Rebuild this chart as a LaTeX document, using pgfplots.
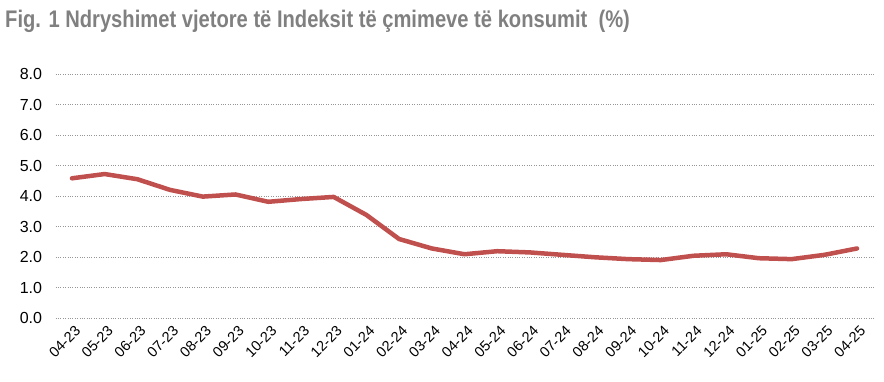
\documentclass[border=0pt]{standalone}
\usepackage{fontspec}
\setmainfont{Liberation Sans}
\newfontfamily\titlefont{Liberation Sans}[FakeStretch=0.84]
\usepackage{pgfplots}
\pgfplotsset{compat=1.18}
\definecolor{cpired}{RGB}{192,80,77}
\definecolor{titlegray}{RGB}{128,128,128}
\definecolor{gridgray}{RGB}{150,150,150}
\begin{document}
\begin{tikzpicture}
\path[use as bounding box] (0,0) rectangle (884bp,382bp);
\node[anchor=base west, inner sep=0, text=titlegray, font=\titlefont\bfseries\fontsize{24bp}{28bp}\selectfont] at (5bp,354bp) {Fig. 1 Ndryshimet vjetore të Indeksit të çmimeve të konsumit\ \ (\%)};
\begin{axis}[
  at={(55.6bp,64bp)}, anchor=south west,
  scale only axis, width=817.8bp, height=244bp,
  xmin=-0.5, xmax=24.5, ymin=0, ymax=8,
  axis line style={draw=none},
  major tick length=0pt,
  ymajorgrids,
  grid style={dotted, gridgray, line width=0.8pt},
  ytick={0,1,...,8},
  yticklabel={\pgfmathprintnumber[fixed,fixed zerofill,precision=1]{\tick}},
  /pgf/number format/assume math mode=true,
  yticklabel style={font=\fontsize{16bp}{16bp}\selectfont, xshift=-10bp},
  xtick={0,1,...,24},
  xticklabels={04-23,05-23,06-23,07-23,08-23,09-23,10-23,11-23,12-23,01-24,02-24,03-24,04-24,05-24,06-24,07-24,08-24,09-24,10-24,11-24,12-24,01-25,02-25,03-25,04-25},
  xticklabel style={rotate=45, anchor=north east, font=\fontsize{14.5bp}{14.5bp}\selectfont, yshift=-3bp},
  clip=false,
]
\addplot[cpired, line width=4.5bp, line join=round, line cap=round] coordinates {
(0,4.58) (1,4.72) (2,4.55) (3,4.2) (4,3.98) (5,4.05) (6,3.81) (7,3.9) (8,3.97)
(9,3.38) (10,2.59) (11,2.28) (12,2.09) (13,2.19) (14,2.15) (15,2.07) (16,1.99)
(17,1.93) (18,1.9) (19,2.04) (20,2.09) (21,1.96) (22,1.93) (23,2.07) (24,2.28)
};
\end{axis}
\end{tikzpicture}
\end{document}
